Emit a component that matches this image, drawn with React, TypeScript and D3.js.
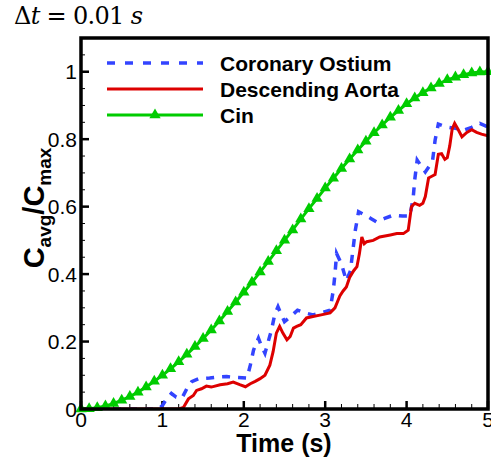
import React from "react";
import * as d3 from "d3";

const cinTimes = d3.range(0, 51).map((i) => i / 10);
const cinValues = [
  0, 0.001, 0.004, 0.009, 0.016, 0.026, 0.037, 0.05, 0.065, 0.082,
  0.1, 0.119, 0.14, 0.162, 0.185, 0.209, 0.234, 0.261, 0.289, 0.317,
  0.346, 0.376, 0.406, 0.437, 0.469, 0.5, 0.531, 0.563, 0.594, 0.624,
  0.655, 0.684, 0.713, 0.741, 0.768, 0.794, 0.819, 0.842, 0.865, 0.885,
  0.905, 0.922, 0.938, 0.952, 0.965, 0.976, 0.984, 0.991, 0.996, 0.999, 1.0,
];

const ostiumTimes = [
  0, 0.95, 1.0, 1.05, 1.11, 1.17, 1.24, 1.3, 1.36, 1.45, 1.58, 1.7, 1.79, 1.9,
  2.04, 2.08, 2.12, 2.18, 2.22, 2.26, 2.3, 2.34, 2.38, 2.42, 2.46, 2.5, 2.58,
  2.66, 2.75, 2.85, 2.95, 3.06, 3.1, 3.12, 3.14, 3.2, 3.26, 3.31, 3.37, 3.41,
  3.49, 3.56, 3.63, 3.73, 3.84, 3.95, 4.04, 4.08, 4.1, 4.13, 4.18, 4.23, 4.28,
  4.32, 4.35, 4.39, 4.49, 4.6, 4.7, 4.8, 4.9, 5.0,
];
const ostiumValues = [
  0, 0, 0.01, 0.03, 0.046, 0.035, 0.032, 0.06, 0.081, 0.09, 0.092, 0.095, 0.096,
  0.094, 0.092, 0.13, 0.175, 0.21, 0.185, 0.165, 0.2, 0.234, 0.28, 0.303, 0.28,
  0.259, 0.275, 0.293, 0.285, 0.279, 0.285, 0.293, 0.353, 0.4, 0.461, 0.43,
  0.38, 0.41, 0.53, 0.585, 0.575, 0.565, 0.555, 0.565, 0.575, 0.572, 0.572,
  0.624, 0.68, 0.738, 0.72, 0.703, 0.72, 0.738, 0.797, 0.845, 0.836, 0.832,
  0.827, 0.835, 0.847, 0.836,
];

const aortaTimes = [
  0, 1.2, 1.26, 1.32, 1.38, 1.42, 1.48, 1.54, 1.6, 1.71, 1.8, 1.87, 1.95, 2.02,
  2.08, 2.14, 2.2, 2.26, 2.32, 2.36, 2.4, 2.44, 2.48, 2.53, 2.57, 2.61, 2.65,
  2.7, 2.77, 2.85, 2.95, 3.06, 3.12, 3.18, 3.22, 3.26, 3.3, 3.35, 3.39, 3.42,
  3.45, 3.48, 3.51, 3.59, 3.67, 3.8, 3.88, 3.96, 4.02, 4.06, 4.1, 4.16, 4.2,
  4.23, 4.27, 4.31, 4.35, 4.39, 4.43, 4.47, 4.5, 4.53, 4.56, 4.59, 4.63, 4.68,
  4.74, 4.8, 4.86, 4.92, 5.0,
];
const aortaValues = [
  0, 0, 0.005, 0.03, 0.04, 0.055, 0.06, 0.068, 0.065, 0.072, 0.075, 0.08, 0.072,
  0.066, 0.075, 0.082, 0.09, 0.1, 0.13, 0.17, 0.225, 0.245, 0.225, 0.205, 0.215,
  0.24, 0.245, 0.25, 0.27, 0.274, 0.279, 0.285, 0.3, 0.335, 0.35, 0.362, 0.39,
  0.41, 0.422, 0.46, 0.51, 0.49, 0.496, 0.5, 0.51, 0.516, 0.52, 0.52, 0.53, 0.6,
  0.61, 0.604, 0.61, 0.63, 0.685, 0.69, 0.695, 0.755, 0.757, 0.74, 0.745, 0.78,
  0.83, 0.847, 0.83, 0.807, 0.82, 0.828, 0.82, 0.815, 0.81,
];

const xTicks = [0, 1, 2, 3, 4, 5];
const yTicks = [0, 0.2, 0.4, 0.6, 0.8, 1];
const seriesNames = ["Coronary Ostium", "Descending Aorta", "Cin"];

const BLUE = "#3344ff";
const RED = "#dd0000";
const GREEN = "#00cc00";

export default function App() {
  const W = 491;
  const H = 461;
  const left = 81;
  const right = 488;
  const top = 38;
  const bottom = 409;

  const x = d3.scaleLinear().domain([0, 5]).range([left, right]);
  const y = d3.scaleLinear().domain([0, 1.1]).range([bottom, top]);

  const line = d3
    .line<[number, number]>()
    .x((d) => x(d[0]))
    .y((d) => y(d[1]));

  const ostium = ostiumTimes.map((t, i) => [t, ostiumValues[i]] as [number, number]);
  const aorta = aortaTimes.map((t, i) => [t, aortaValues[i]] as [number, number]);
  const cin = cinTimes.map((t, i) => [t, cinValues[i]] as [number, number]);

  const tri = d3.symbol(d3.symbolTriangle, 55)() as string;

  const xMinor = d3.range(0, 5.001, 0.2);
  const yMinor = d3.range(0, 1.1001, 0.05);

  const font = "Arial, 'Liberation Sans', sans-serif";
  const legendY = [63, 89, 115];

  return (
    <svg
      width={W}
      height={H}
      style={{ position: "absolute", left: 0, top: 0, background: "#fff" }}
    >
      <rect x={0} y={0} width={W} height={H} fill="#fff" />
      {/* title */}
      <text
        x={14}
        y={24}
        fontFamily="'DejaVu Serif', 'Liberation Serif', serif"
        fontSize={24}
        textLength={129}
        fill="#000"
      >
        <tspan>Δ</tspan>
        <tspan fontStyle="italic">t</tspan>
        <tspan> = 0.01 </tspan>
        <tspan fontStyle="italic">s</tspan>
      </text>

      <defs>
        <clipPath id="plotclip">
          <rect x={left} y={top} width={right - left} height={bottom - top} />
        </clipPath>
      </defs>

      {/* minor ticks */}
      {xMinor.map((t, i) => (
        <line
          key={"xm" + i}
          x1={x(t)}
          x2={x(t)}
          y1={bottom}
          y2={bottom - 5}
          stroke="#000"
          strokeWidth={1}
        />
      ))}
      {yMinor.map((v, i) => (
        <line
          key={"ym" + i}
          x1={left}
          x2={left + 4}
          y1={y(v)}
          y2={y(v)}
          stroke="#000"
          strokeWidth={1}
        />
      ))}
      {xTicks.map((t) => (
        <line
          key={"xt" + t}
          x1={x(t)}
          x2={x(t)}
          y1={bottom}
          y2={bottom - 8}
          stroke="#000"
          strokeWidth={2.5}
        />
      ))}
      {yTicks.map((v) => (
        <line
          key={"yt" + v}
          x1={left}
          x2={left + 8}
          y1={y(v)}
          y2={y(v)}
          stroke="#000"
          strokeWidth={2.5}
        />
      ))}

      {/* series */}
      <g clipPath="url(#plotclip)">
        <path
          d={line(ostium) as string}
          fill="none"
          stroke={BLUE}
          strokeWidth={3.5}
          strokeDasharray="8,8"
        />
        <path d={line(aorta) as string} fill="none" stroke={RED} strokeWidth={3} />
        <path d={line(cin) as string} fill="none" stroke={GREEN} strokeWidth={3} />
      </g>
      {cin.map((d, i) => (
        <path
          key={"m" + i}
          d={tri}
          transform={`translate(${x(d[0])},${y(d[1])})`}
          fill={GREEN}
        />
      ))}

      {/* frame */}
      <rect
        x={left}
        y={top}
        width={right - left}
        height={bottom - top}
        fill="none"
        stroke="#000"
        strokeWidth={3.5}
      />

      {/* tick labels */}
      {xTicks.map((t) => (
        <text
          key={"xl" + t}
          x={x(t)}
          y={427}
          textAnchor="middle"
          fontFamily={font}
          fontSize={21}
          fill="#000"
        >
          {t}
        </text>
      ))}
      {yTicks.map((v) => (
        <text
          key={"yl" + v}
          x={77}
          y={y(v)}
          dy="0.36em"
          textAnchor="end"
          fontFamily={font}
          fontSize={21}
          fill="#000"
        >
          {v === 0 ? "0" : String(v)}
        </text>
      ))}

      {/* axis titles */}
      <text
        x={284}
        y={452}
        textAnchor="middle"
        fontFamily={font}
        fontWeight="bold"
        fontSize={25}
        fill="#000"
      >
        Time (s)
      </text>
      <text
        transform="translate(44,208) rotate(-90)"
        textAnchor="middle"
        fontFamily={font}
        fontWeight="bold"
        fontSize={29}
        fill="#000"
      >
        <tspan>C</tspan>
        <tspan fontSize={19} dy={7}>avg</tspan>
        <tspan dy={-7}>/C</tspan>
        <tspan fontSize={19} dy={7}>max</tspan>
      </text>

      {/* legend */}
      <line x1={107} x2={203} y1={legendY[0]} y2={legendY[0]} stroke={BLUE} strokeWidth={3.5} strokeDasharray="8,10" />
      <line x1={107} x2={203} y1={legendY[1]} y2={legendY[1]} stroke={RED} strokeWidth={3} />
      <line x1={107} x2={203} y1={legendY[2]} y2={legendY[2]} stroke={GREEN} strokeWidth={3} />
      <path d={tri} transform={`translate(155,${legendY[2]})`} fill={GREEN} />
      {seriesNames.map((n, i) => (
        <text
          key={n}
          x={220}
          y={legendY[i]}
          dy="0.36em"
          fontFamily={font}
          fontWeight="bold"
          fontSize={21}
          fill="#000"
        >
          {n}
        </text>
      ))}
    </svg>
  );
}
